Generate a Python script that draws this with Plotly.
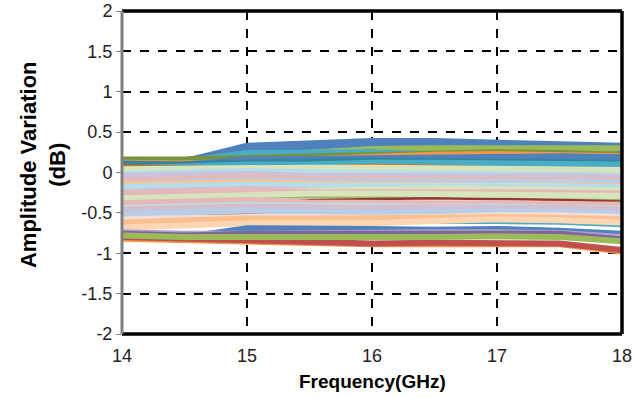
import plotly.graph_objects as go

freq_ghz = [14, 14.5, 15, 15.5, 16, 16.5, 17, 17.5, 18]
y_ticks = [2, 1.5, 1, 0.5, 0, -0.5, -1, -1.5, -2]
y_tick_text = ["2", "1.5", "1", "0.5", "0", "-0.5", "-1", "-1.5", "-2"]
x_ticks = [14, 15, 16, 17, 18]

# amplitude variation (dB) per channel
ch01 = [0.10, 0.14, 0.33, 0.36, 0.39, 0.39, 0.37, 0.36, 0.33]
ch02 = [0.10, 0.15, 0.28, 0.30, 0.33, 0.33, 0.32, 0.31, 0.29]
ch03 = [0.14, 0.15, 0.20, 0.25, 0.29, 0.30, 0.30, 0.30, 0.30]
ch04 = [0.12, 0.14, 0.24, 0.24, 0.25, 0.23, 0.22, 0.20, 0.18]
ch05 = [0.16, 0.16, 0.18, 0.20, 0.22, 0.24, 0.25, 0.24, 0.22]
ch06 = [0.12, 0.11, 0.14, 0.17, 0.20, 0.22, 0.23, 0.22, 0.20]
ch07 = [0.06, 0.10, 0.16, 0.17, 0.18, 0.19, 0.20, 0.20, 0.19]
ch08 = [0.11, 0.10, 0.12, 0.13, 0.15, 0.14, 0.14, 0.13, 0.12]
ch09 = [0.05, 0.07, 0.10, 0.10, 0.12, 0.12, 0.11, 0.10, 0.10]
ch10 = [0.06, 0.05, 0.04, 0.05, 0.07, 0.06, 0.04, 0.03, 0.00]
ch11 = [0.04, 0.05, 0.06, 0.06, 0.06, 0.05, 0.05, 0.04, 0.03]
ch12 = [-0.02, 0.00, 0.02, 0.00, 0.00, -0.01, -0.02, -0.03, -0.04]
ch13 = [-0.04, -0.03, -0.02, -0.04, -0.04, -0.05, -0.04, -0.05, -0.06]
ch14 = [-0.10, -0.08, -0.06, -0.08, -0.08, -0.08, -0.09, -0.10, -0.10]
ch15 = [-0.19, -0.17, -0.16, -0.15, -0.14, -0.13, -0.13, -0.14, -0.15]
ch16 = [-0.14, -0.12, -0.10, -0.11, -0.11, -0.11, -0.11, -0.12, -0.12]
ch17 = [-0.15, -0.14, -0.12, -0.14, -0.15, -0.15, -0.16, -0.16, -0.17]
ch18 = [-0.18, -0.16, -0.15, -0.16, -0.16, -0.16, -0.17, -0.17, -0.18]
ch19 = [-0.24, -0.22, -0.20, -0.22, -0.23, -0.24, -0.25, -0.26, -0.27]
ch20 = [-0.28, -0.26, -0.24, -0.22, -0.21, -0.20, -0.20, -0.21, -0.22]
ch21 = [-0.34, -0.32, -0.30, -0.30, -0.30, -0.30, -0.31, -0.32, -0.33]
ch22 = [-0.32, -0.30, -0.28, -0.26, -0.26, -0.27, -0.28, -0.28, -0.29]
ch23 = [-0.38, -0.36, -0.34, -0.34, -0.33, -0.32, -0.33, -0.34, -0.36]
ch24 = [-0.38, -0.36, -0.34, -0.37, -0.38, -0.38, -0.38, -0.39, -0.40]
ch25 = [-0.44, -0.42, -0.40, -0.41, -0.42, -0.42, -0.42, -0.43, -0.45]
ch26 = [-0.46, -0.44, -0.42, -0.43, -0.44, -0.43, -0.43, -0.44, -0.46]
ch27 = [-0.54, -0.53, -0.52, -0.52, -0.53, -0.51, -0.50, -0.50, -0.52]
ch28 = [-0.48, -0.46, -0.44, -0.45, -0.46, -0.45, -0.44, -0.45, -0.47]
ch29 = [-0.52, -0.50, -0.47, -0.49, -0.50, -0.49, -0.48, -0.49, -0.51]
ch30 = [-0.63, -0.61, -0.58, -0.60, -0.62, -0.62, -0.62, -0.63, -0.66]
ch31 = [-0.62, -0.60, -0.57, -0.57, -0.57, -0.56, -0.55, -0.56, -0.58]
ch32 = [-0.68, -0.66, -0.63, -0.63, -0.63, -0.60, -0.58, -0.59, -0.62]
ch33 = [-0.82, -0.84, -0.86, -0.87, -0.89, -0.89, -0.89, -0.89, -0.98]
ch34 = [-0.80, -0.82, -0.84, -0.85, -0.88, -0.87, -0.87, -0.88, -0.96]
ch35 = [-0.78, -0.80, -0.69, -0.69, -0.70, -0.71, -0.70, -0.72, -0.76]
ch36 = [-0.74, -0.76, -0.76, -0.75, -0.75, -0.74, -0.74, -0.75, -0.80]
ch37 = [-0.76, -0.78, -0.76, -0.76, -0.77, -0.77, -0.76, -0.76, -0.83]
ch38 = [-0.78, -0.80, -0.80, -0.80, -0.81, -0.80, -0.79, -0.80, -0.85]
ch39 = [-0.58, -0.56, -0.55, -0.55, -0.56, -0.55, -0.53, -0.53, -0.55]
ch40 = [-0.26, -0.24, -0.22, -0.24, -0.24, -0.24, -0.24, -0.25, -0.26]

# drawing order: thin saturated mid-band channels first, pastel ones over them
channels = [ch15, ch21, ch23, ch27, ch30,
            ch01, ch02, ch03, ch04, ch05, ch06, ch07, ch08, ch09, ch10,
            ch11, ch12, ch13, ch14, ch16, ch17, ch18, ch19, ch20, ch40,
            ch22, ch24, ch25, ch26, ch28, ch29, ch39,
            ch31, ch32, ch33, ch34, ch35, ch36, ch37, ch38]
colors = ["#8064A2", "#9BBB59", "#953735", "#984807", "#4BACC6",
          "#4F81BD", "#4F81BD", "#9BBB59", "#4BACC6", "#77933C", "#F79646",
          "#4F81BD", "#31859C", "#4BACC6", "#E46C0A",
          "#D7E4BD", "#B7DEE8", "#CCC1DA", "#E6B9B8", "#B9CDE5",
          "#FAC090", "#B7DEE8", "#CCC1DA", "#D7E4BD", "#E6B9B8",
          "#D7E4BD", "#E6B9B8", "#B7DEE8", "#E6B9B8", "#CCC1DA", "#B9CDE5", "#F2DCDB",
          "#FAC090", "#FCD5B5", "#F79646", "#C0504D", "#4F81BD", "#B3A2C7",
          "#8064A2", "#9BBB59"]
widths = [3, 3, 2.5, 3, 3] + [6] * 35

fig = go.Figure()
for vals, col, w in zip(channels, colors, widths):
    fig.add_trace(go.Scatter(x=freq_ghz, y=vals, mode="lines",
                             line=dict(color=col, width=w),
                             showlegend=False, hoverinfo="skip"))

font_family = "Liberation Sans, Arial, sans-serif"
fig.update_layout(
    width=635, height=398,
    margin=dict(l=122, r=13, t=11, b=64),
    paper_bgcolor="white", plot_bgcolor="white",
    font=dict(family=font_family, size=18, color="#222222"),
    showlegend=False,
    xaxis=dict(range=[14, 18], tickvals=x_ticks, ticktext=[str(v) for v in x_ticks],
               showgrid=True, gridcolor="black", gridwidth=1.5, griddash="dash",
               zeroline=False, showline=False, ticks="", ticklen=0,
               automargin=False, ticklabelstandoff=9,
               tickfont=dict(size=18, color="#222222")),
    yaxis=dict(range=[-2, 2], tickvals=y_ticks, ticktext=y_tick_text,
               showgrid=True, gridcolor="black", gridwidth=1.5, griddash="dash",
               zeroline=False, showline=False, ticks="outside", ticklen=5,
               tickcolor="#808080", tickwidth=1, automargin=False,
               tickfont=dict(size=18, color="#222222")),
    shapes=[
        dict(type="line", xref="paper", yref="paper", x0=0, x1=1, y0=1, y1=1,
             line=dict(color="black", width=3.5)),
        dict(type="line", xref="paper", yref="paper", x0=1, x1=1, y0=0, y1=1,
             line=dict(color="black", width=3.5)),
        dict(type="line", xref="paper", yref="paper", x0=0, x1=1, y0=0, y1=0,
             line=dict(color="black", width=3.5)),
        dict(type="line", xref="paper", yref="paper", x0=0, x1=0, y0=0, y1=1,
             line=dict(color="#808080", width=3)),
    ],
    annotations=[
        dict(text="<b>Amplitude Variation<br>(dB)</b>", xref="paper", yref="paper",
             x=-0.158, y=0.523, xanchor="center", yanchor="middle", textangle=-90,
             showarrow=False, font=dict(size=22, color="black", family=font_family)),
        dict(text="<b>Frequency(GHz)</b>", xref="paper", yref="paper",
             x=0.5, y=-0.146, xanchor="center", yanchor="middle",
             showarrow=False, font=dict(size=19, color="black", family=font_family)),
    ],
)

fig.write_html("out.html", config={"displayModeBar": False},
               post_script="document.body.style.margin='0';")
